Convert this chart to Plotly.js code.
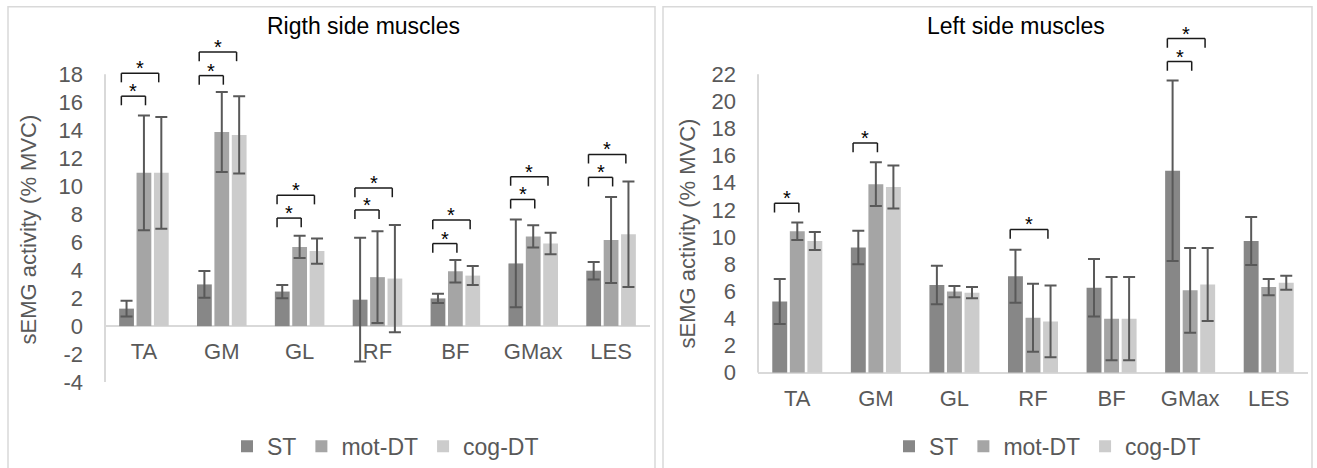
<!DOCTYPE html>
<html>
<head>
<meta charset="utf-8">
<script src="https://cdn.plot.ly/plotly-3.0.1.min.js"></script>
<style>
  html, body { margin: 0; padding: 0; background: #ffffff; }
  #chart { width: 1317px; height: 468px; }
</style>
</head>
<body>
<div id="chart"></div>
<script>
// Muscles and task conditions
const muscles = ['TA', 'GM', 'GL', 'RF', 'BF', 'GMax', 'LES'];
const conditions = ['ST', 'mot-DT', 'cog-DT'];

// Right side muscles: mean and SD of sEMG activity (% MVC)
const rightST      = [1.25, 2.98, 2.47, 1.89, 1.98, 4.48, 3.96];
const rightSTsd    = [0.56, 0.95, 0.47, 4.42, 0.33, 3.13, 0.63];
const rightMot     = [10.95, 13.87, 5.66, 3.50, 3.92, 6.41, 6.15];
const rightMotSd   = [4.10, 2.85, 0.80, 3.27, 0.80, 0.80, 3.07];
const rightCog     = [10.95, 13.66, 5.36, 3.40, 3.61, 5.90, 6.57];
const rightCogSd   = [4.00, 2.76, 0.90, 3.83, 0.68, 0.77, 3.77];

// Left side muscles: mean and SD of sEMG activity (% MVC)
const leftST       = [5.25, 9.23, 6.46, 7.11, 6.27, 14.89, 9.71];
const leftSTsd     = [1.66, 1.24, 1.42, 1.96, 2.12, 6.65, 1.77];
const leftMot      = [10.43, 13.90, 5.98, 4.05, 3.98, 6.07, 6.31];
const leftMotSd    = [0.65, 1.62, 0.42, 2.51, 3.07, 3.13, 0.60];
const leftCog      = [9.71, 13.69, 5.90, 3.78, 3.98, 6.51, 6.63];
const leftCogSd    = [0.67, 1.59, 0.41, 2.65, 3.07, 2.69, 0.51];

// Significant differences vs ST (muscle, compared condition, bracket height)
const rightSigMuscle = ['TA', 'TA', 'GM', 'GM', 'GL', 'GL', 'RF', 'RF', 'BF', 'BF', 'GMax', 'GMax', 'LES', 'LES'];
const rightSigVs     = ['mot-DT', 'cog-DT', 'mot-DT', 'cog-DT', 'mot-DT', 'cog-DT', 'mot-DT', 'cog-DT', 'mot-DT', 'cog-DT', 'mot-DT', 'cog-DT', 'mot-DT', 'cog-DT'];
const rightSigLevel  = [16.43, 18.07, 17.90, 19.58, 7.72, 9.35, 8.30, 9.86, 5.90, 7.58, 9.05, 10.68, 10.63, 12.27];
const leftSigMuscle  = ['TA', 'GM', 'RF', 'GMax', 'GMax'];
const leftSigVs      = ['mot-DT', 'mot-DT', 'cog-DT', 'mot-DT', 'cog-DT'];
const leftSigLevel   = [12.49, 16.94, 10.56, 22.94, 24.63];

// Axis ticks and their labels
const rightTicks      = [-4, -2, 0, 2, 4, 6, 8, 10, 12, 14, 16, 18];
const rightTickLabels = ['-4', '-2', '0', '2', '4', '6', '8', '10', '12', '14', '16', '18'];
const leftTicks       = [0, 2, 4, 6, 8, 10, 12, 14, 16, 18, 20, 22];
const leftTickLabels  = ['0', '2', '4', '6', '8', '10', '12', '14', '16', '18', '20', '22'];

const W = 1317, H = 468;
const FONT = 'Liberation Sans, Arial, sans-serif';
const colors = ['#878787', '#a5a5a5', '#cccccc'];
const textGray = '#595959';
const frameGray = '#d9d9d9';

const px = v => v / W;
const py = v => (H - v) / H;

// Panel geometry in pixels: plot box and y range
const panels = [
  { key: '', title: 'Rigth side muscles', means: [rightST, rightMot, rightCog], sds: [rightSTsd, rightMotSd, rightCogSd],
    sigM: rightSigMuscle, sigVs: rightSigVs, sigL: rightSigLevel, ticks: rightTicks, tickLabels: rightTickLabels,
    left: 105, right: 650, top: 35.7, bottom: 389.6, range: [-4, 20.8], tickDepth: 0.65,
    frame: [8, 655], titleX: 363, ytitleX: 28, ytitleY: 234, legendX: 227 },
  { key: '2', title: 'Left side muscles', means: [leftST, leftMot, leftCog], sds: [leftSTsd, leftMotSd, leftCogSd],
    sigM: leftSigMuscle, sigVs: leftSigVs, sigL: leftSigLevel, ticks: leftTicks, tickLabels: leftTickLabels,
    left: 758, right: 1308, top: 20.4, bottom: 380, range: [0, 26], tickDepth: 0.68,
    frame: [663, 1312], titleX: 1016, ytitleX: 687, ytitleY: 238, legendX: 889 }
];

const data = [];
const shapes = [];
const annotations = [];
const layout = {
  width: W, height: H,
  margin: { l: 0, r: 0, t: 0, b: 0, pad: 0 },
  paper_bgcolor: '#ffffff', plot_bgcolor: 'rgba(0,0,0,0)',
  barmode: 'group', bargap: 0.33, bargroupgap: 0.15,
  font: { family: FONT, color: textGray },
  showlegend: true
};

panels.forEach(p => {
  const xa = 'x' + p.key, ya = 'y' + p.key;
  const legendId = 'legend' + p.key;

  conditions.forEach((c, i) => {
    data.push({
      type: 'bar', name: c, x: muscles, y: p.means[i],
      xaxis: xa, yaxis: ya, legend: legendId,
      marker: { color: colors[i], line: { width: 0 } },
      error_y: { type: 'data', array: p.sds[i], visible: true, color: textGray, thickness: 2, width: 6 },
      hoverinfo: 'skip'
    });
  });

  const yDom = [py(p.bottom), py(p.top)];
  const zeroPos = yDom[0] + (0 - p.range[0]) / (p.range[1] - p.range[0]) * (yDom[1] - yDom[0]);

  layout['xaxis' + p.key] = {
    domain: [px(p.left), px(p.right)],
    anchor: 'free', position: zeroPos,
    type: 'category', range: [-0.5, 6.5],
    showline: false, showgrid: false, zeroline: false, ticks: '',
    ticklabelstandoff: 10,
    tickfont: { family: FONT, size: 22, color: textGray },
    fixedrange: true
  };
  layout['yaxis' + p.key] = {
    domain: yDom, anchor: xa, range: p.range,
    tickmode: 'array', tickvals: p.ticks, ticktext: p.tickLabels,
    showline: false, showgrid: false, ticks: '',
    zeroline: true, zerolinecolor: frameGray, zerolinewidth: 2,
    ticklabelstandoff: 21,
    tickfont: { family: FONT, size: 22, color: textGray },
    fixedrange: true
  };

  // vertical axis line spanning the tick range
  shapes.push({ type: 'line', xref: xa + ' domain', yref: ya, x0: 0, x1: 0,
    y0: p.ticks[0], y1: p.ticks[p.ticks.length - 1], line: { color: frameGray, width: 2 } });

  // chart frame
  shapes.push({ type: 'rect', xref: 'paper', yref: 'paper', x0: px(p.frame[0]), x1: px(p.frame[1]),
    y0: -0.1, y1: py(7), line: { color: frameGray, width: 1.5 }, fillcolor: 'rgba(0,0,0,0)', layer: 'below' });

  // significance brackets
  p.sigM.forEach((m, k) => {
    const idx = muscles.indexOf(m);
    const xL = idx - 0.29;
    const xR = idx + (p.sigVs[k] === 'mot-DT' ? 0.02 : 0.19);
    const yT = p.sigL[k], yB = yT - p.tickDepth;
    const ln = { color: '#1a1a1a', width: 1.5 };
    shapes.push({ type: 'line', xref: xa, yref: ya, x0: xL, x1: xR, y0: yT, y1: yT, line: ln });
    shapes.push({ type: 'line', xref: xa, yref: ya, x0: xL, x1: xL, y0: yB, y1: yT, line: ln });
    shapes.push({ type: 'line', xref: xa, yref: ya, x0: xR, x1: xR, y0: yB, y1: yT, line: ln });
    annotations.push({ xref: xa, yref: ya, x: (xL + xR) / 2, y: yT, text: '*', showarrow: false,
      xanchor: 'center', yanchor: 'middle', yshift: 5,
      font: { family: FONT, size: 20, color: '#000000' } });
  });

  // chart title
  annotations.push({ xref: 'paper', yref: 'paper', x: px(p.titleX), y: py(27), text: p.title,
    showarrow: false, xanchor: 'center', yanchor: 'middle',
    font: { family: FONT, size: 23, color: '#000000' } });

  // y-axis title
  annotations.push({ xref: 'paper', yref: 'paper', x: px(p.ytitleX), y: py(p.ytitleY),
    text: 'sEMG activity (% MVC)', textangle: -90, showarrow: false,
    xanchor: 'center', yanchor: 'middle',
    font: { family: FONT, size: 22, color: textGray } });

  layout[legendId] = {
    orientation: 'h', x: px(p.legendX), xanchor: 'left', y: py(455), yanchor: 'middle',
    bgcolor: 'rgba(0,0,0,0)', traceorder: 'normal',
    font: { family: FONT, size: 23, color: textGray }
  };
});

layout.shapes = shapes;
layout.annotations = annotations;

Plotly.newPlot('chart', data, layout, { staticPlot: true, displayModeBar: false });
</script>
</body>
</html>
